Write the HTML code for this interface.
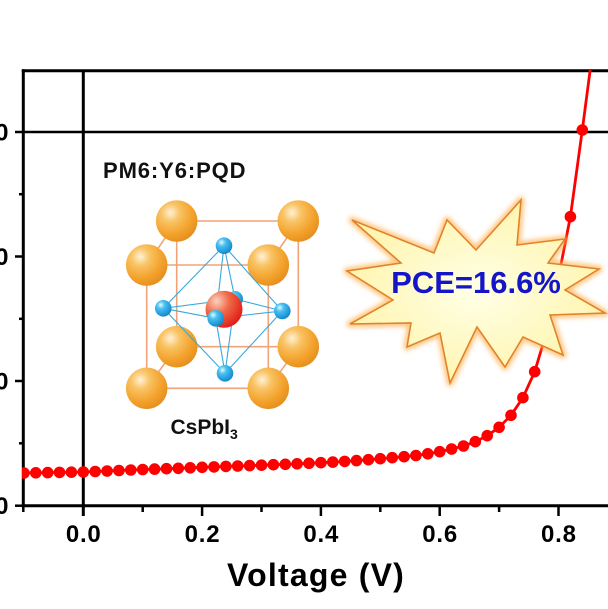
<!DOCTYPE html>
<html><head><meta charset="utf-8"><style>
html,body{margin:0;padding:0;background:#fff;width:608px;height:609px;overflow:hidden}
svg{display:block}
</style></head><body>
<svg width="608" height="609" viewBox="0 0 608 609" xmlns="http://www.w3.org/2000/svg">
<defs>
<clipPath id="plot"><rect x="22" y="70" width="586" height="436"/></clipPath>
<radialGradient id="og" cx="0.35" cy="0.3" r="0.8">
<stop offset="0" stop-color="#fff1d6"/><stop offset="0.28" stop-color="#f9c364"/><stop offset="0.65" stop-color="#f3a22c"/><stop offset="1" stop-color="#e2891a"/>
</radialGradient>
<radialGradient id="bg" cx="0.35" cy="0.3" r="0.8">
<stop offset="0" stop-color="#e4f8ff"/><stop offset="0.3" stop-color="#48c0f0"/><stop offset="1" stop-color="#0a7fc8"/>
</radialGradient>
<radialGradient id="rg" cx="0.3" cy="0.28" r="0.85">
<stop offset="0" stop-color="#fbd2c2"/><stop offset="0.4" stop-color="#f06a48"/><stop offset="1" stop-color="#dc1010"/>
</radialGradient>
<radialGradient id="sg" cx="0.5" cy="0.5" r="0.6">
<stop offset="0" stop-color="#ffffe6"/><stop offset="1" stop-color="#fff3a6"/>
</radialGradient>
<filter id="blur" x="-20%" y="-20%" width="140%" height="140%"><feGaussianBlur stdDeviation="2.5"/></filter>
</defs>

<!-- axes -->
<g stroke="#000" fill="none">
<line x1="21.8" y1="70.7" x2="608" y2="70.7" stroke-width="3"/>
<line x1="23.3" y1="69.2" x2="23.3" y2="507.2" stroke-width="3"/>
<line x1="21.8" y1="505.7" x2="608" y2="505.7" stroke-width="3"/>
<line x1="15" y1="132" x2="608" y2="132" stroke-width="2.6"/>
<line x1="83.3" y1="70" x2="83.3" y2="516" stroke-width="3"/>
<g stroke-width="2.5">
<line x1="15" y1="256.5" x2="23" y2="256.5"/>
<line x1="15" y1="381" x2="23" y2="381"/>
<line x1="15" y1="505.7" x2="23" y2="505.7"/>
<line x1="19" y1="194.2" x2="23" y2="194.2"/>
<line x1="19" y1="318.8" x2="23" y2="318.8"/>
<line x1="19" y1="443.3" x2="23" y2="443.3"/>
</g>
<g stroke-width="2.5">
<line x1="202.1" y1="505" x2="202.1" y2="516"/>
<line x1="320.9" y1="505" x2="320.9" y2="516"/>
<line x1="439.7" y1="505" x2="439.7" y2="516"/>
<line x1="558.5" y1="505" x2="558.5" y2="516"/>
<line x1="23.3" y1="505" x2="23.3" y2="512"/>
<line x1="142.7" y1="505" x2="142.7" y2="512"/>
<line x1="261.5" y1="505" x2="261.5" y2="512"/>
<line x1="380.3" y1="505" x2="380.3" y2="512"/>
<line x1="499.1" y1="505" x2="499.1" y2="512"/>
</g>
</g>

<g font-family="Liberation Sans, Arial, sans-serif" font-weight="bold" font-size="24" fill="#000" text-anchor="end">
<text x="8.5" y="140.5">0</text>
<text x="8.5" y="265">-10</text>
<text x="8.5" y="389.5">-20</text>
<text x="8.5" y="514.2">-30</text>
</g>
<g font-family="Liberation Sans, Arial, sans-serif" font-weight="bold" font-size="24" fill="#000" text-anchor="middle" letter-spacing="0.8">
<text x="83.7" y="542">0.0</text>
<text x="202.5" y="542">0.2</text>
<text x="321.3" y="542">0.4</text>
<text x="440.1" y="542">0.6</text>
<text x="558.9" y="542">0.8</text>
</g>
<text x="316" y="586" font-family="Liberation Sans, Arial, sans-serif" font-weight="bold" font-size="32" fill="#000" text-anchor="middle" letter-spacing="1.2">Voltage (V)</text>

<g clip-path="url(#plot)">
<polyline fill="none" stroke="#ff0000" stroke-width="2.8" stroke-linejoin="round" points="23.9,473 35.8,472.8 47.7,472.6 59.5,472.4 71.4,472.2 83.3,472 95.2,471.5 107.1,471 118.9,470.5 130.8,470 142.7,469.5 154.6,469.1 166.5,468.7 178.3,468.3 190.2,467.8 202.1,467.3 214,466.9 225.9,466.4 237.7,466 249.6,465.6 261.5,465.2 273.4,464.7 285.3,464.3 297.1,463.8 309,463.3 320.9,462.7 332.8,462.1 344.7,461.4 356.5,460.6 368.4,459.7 380.3,458.7 392.2,457.7 404.1,456.7 415.9,455.5 427.8,453.8 439.7,451.7 451.6,449 463.5,446 475.3,441.7 487.2,435.7 499.1,427.3 511,415.3 522.9,397.7 534.7,371.7 546.6,332 558.5,277 570.4,216.7 582.3,130 594.1,40"/>
<g fill="#ff0000">
<circle cx="23.9" cy="473" r="5.8"/><circle cx="35.8" cy="472.8" r="5.8"/><circle cx="47.7" cy="472.6" r="5.8"/><circle cx="59.5" cy="472.4" r="5.8"/><circle cx="71.4" cy="472.2" r="5.8"/><circle cx="83.3" cy="472" r="5.8"/><circle cx="95.2" cy="471.5" r="5.8"/><circle cx="107.1" cy="471" r="5.8"/><circle cx="118.9" cy="470.5" r="5.8"/><circle cx="130.8" cy="470" r="5.8"/><circle cx="142.7" cy="469.5" r="5.8"/><circle cx="154.6" cy="469.1" r="5.8"/><circle cx="166.5" cy="468.7" r="5.8"/><circle cx="178.3" cy="468.3" r="5.8"/><circle cx="190.2" cy="467.8" r="5.8"/><circle cx="202.1" cy="467.3" r="5.8"/><circle cx="214" cy="466.9" r="5.8"/><circle cx="225.9" cy="466.4" r="5.8"/><circle cx="237.7" cy="466" r="5.8"/><circle cx="249.6" cy="465.6" r="5.8"/><circle cx="261.5" cy="465.2" r="5.8"/><circle cx="273.4" cy="464.7" r="5.8"/><circle cx="285.3" cy="464.3" r="5.8"/><circle cx="297.1" cy="463.8" r="5.8"/><circle cx="309" cy="463.3" r="5.8"/><circle cx="320.9" cy="462.7" r="5.8"/><circle cx="332.8" cy="462.1" r="5.8"/><circle cx="344.7" cy="461.4" r="5.8"/><circle cx="356.5" cy="460.6" r="5.8"/><circle cx="368.4" cy="459.7" r="5.8"/><circle cx="380.3" cy="458.7" r="5.8"/><circle cx="392.2" cy="457.7" r="5.8"/><circle cx="404.1" cy="456.7" r="5.8"/><circle cx="415.9" cy="455.5" r="5.8"/><circle cx="427.8" cy="453.8" r="5.8"/><circle cx="439.7" cy="451.7" r="5.8"/><circle cx="451.6" cy="449" r="5.8"/><circle cx="463.5" cy="446" r="5.8"/><circle cx="475.3" cy="441.7" r="5.8"/><circle cx="487.2" cy="435.7" r="5.8"/><circle cx="499.1" cy="427.3" r="5.8"/><circle cx="511" cy="415.3" r="5.8"/><circle cx="522.9" cy="397.7" r="5.8"/><circle cx="534.7" cy="371.7" r="5.8"/><circle cx="546.6" cy="332" r="5.8"/><circle cx="558.5" cy="277" r="5.8"/><circle cx="570.4" cy="216.7" r="5.8"/><circle cx="582.3" cy="130" r="5.8"/>
</g>
</g>

<g>
<polygon points="352,220 434,253 447,220 476,250 521,200 517,245 565,239 548,263 599,269 565,290 605,313 550,315 563,355 523,337 505,367 477,327 450,383 440,333 407,347 411,323 350,324 393,300 347,271 401,263" fill="none" stroke="#ffb050" stroke-width="7" stroke-linejoin="round" opacity="0.7" filter="url(#blur)"/>
<polygon points="352,220 434,253 447,220 476,250 521,200 517,245 565,239 548,263 599,269 565,290 605,313 550,315 563,355 523,337 505,367 477,327 450,383 440,333 407,347 411,323 350,324 393,300 347,271 401,263" fill="url(#sg)" stroke="#e0842a" stroke-width="1.6" stroke-linejoin="miter"/>
<text x="476" y="293" font-family="Liberation Sans, Arial, sans-serif" font-weight="bold" font-size="31" fill="#1414c8" text-anchor="middle">PCE=16.6%</text>
</g>

<text x="103" y="178" font-family="Liberation Sans, Arial, sans-serif" font-weight="bold" font-size="22" fill="#111" letter-spacing="0.9">PM6:Y6:PQD</text>

<g stroke="#f2a377" stroke-width="1.6" fill="none">
<polygon points="176.7,221 298.3,221 298.3,346.7 176.7,346.7"/>
<polygon points="146.7,265 268.3,265 268.3,388.3 146.7,388.3"/>
<line x1="176.7" y1="221" x2="146.7" y2="265"/>
<line x1="298.3" y1="221" x2="268.3" y2="265"/>
<line x1="176.7" y1="346.7" x2="146.7" y2="388.3"/>
<line x1="298.3" y1="346.7" x2="268.3" y2="388.3"/>
</g>
<g fill="url(#og)">
<circle cx="176.7" cy="221" r="20.8"/>
<circle cx="298.3" cy="221" r="20.8"/>
<circle cx="176.7" cy="346.7" r="20.8"/>
<circle cx="298.3" cy="346.7" r="20.8"/>
<circle cx="146.7" cy="265" r="20.8"/>
<circle cx="268.3" cy="265" r="20.8"/>
<circle cx="146.7" cy="388.3" r="20.8"/>
<circle cx="268.3" cy="388.3" r="20.8"/>
</g>
<g stroke="#3aa8dc" stroke-width="1.1" fill="none">
<line x1="224" y1="245.7" x2="163.3" y2="308.3"/>
<line x1="224" y1="245.7" x2="282.3" y2="311"/>
<line x1="224" y1="245.7" x2="215.7" y2="318.3"/>
<line x1="224" y1="245.7" x2="235" y2="299"/>
<line x1="225" y1="373.3" x2="163.3" y2="308.3"/>
<line x1="225" y1="373.3" x2="282.3" y2="311"/>
<line x1="225" y1="373.3" x2="215.7" y2="318.3"/>
<line x1="225" y1="373.3" x2="235" y2="299"/>
<line x1="163.3" y1="308.3" x2="215.7" y2="318.3"/>
<line x1="215.7" y1="318.3" x2="282.3" y2="311"/>
<line x1="282.3" y1="311" x2="235" y2="299"/>
<line x1="235" y1="299" x2="163.3" y2="308.3"/>
</g>
<circle cx="235" cy="299" r="8" fill="url(#bg)"/>
<circle cx="224" cy="309.3" r="18.5" fill="url(#rg)"/>
<g fill="url(#bg)">
<circle cx="224" cy="245.7" r="8.3"/>
<circle cx="163.3" cy="308.3" r="8.3"/>
<circle cx="282.3" cy="311" r="8.3"/>
<circle cx="215.7" cy="318.3" r="8.3"/>
<circle cx="225" cy="373.3" r="8.3"/>
</g>
<text x="170.5" y="434" font-family="Liberation Sans, Arial, sans-serif" font-weight="bold" font-size="21" fill="#111">CsPbI<tspan font-size="14" dy="5">3</tspan></text>
</svg>
</body></html>
